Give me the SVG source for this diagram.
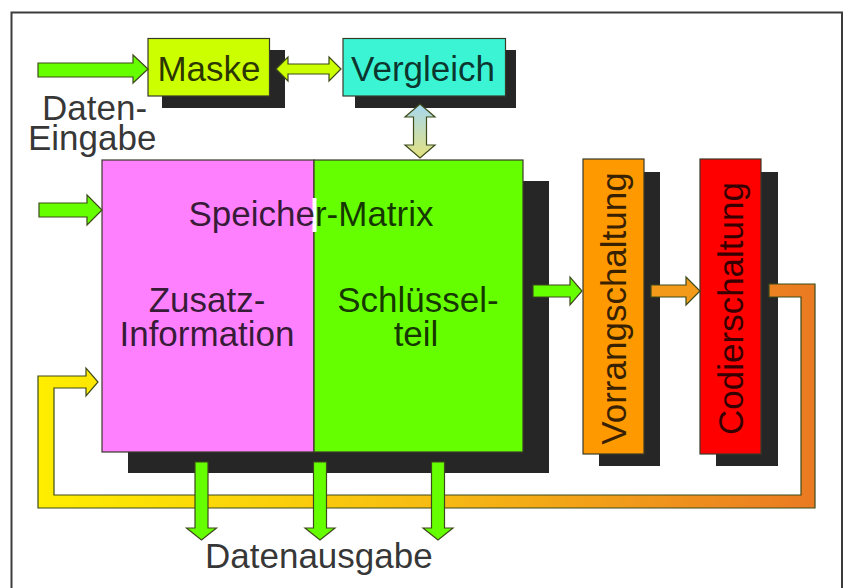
<svg xmlns="http://www.w3.org/2000/svg" width="846" height="588" viewBox="0 0 846 588">
<defs>
<style>
.lbl{font-family:"Liberation Sans",Arial,sans-serif;font-size:35px;fill:#000;fill-opacity:0.8}
.sh{fill:#262626}
.box{stroke:#3a3a2a;stroke-width:1.2}
.arr{stroke:#3d4a1a;stroke-width:1.2;stroke-linejoin:miter}
.grn{fill:#66ff00}
</style>
<linearGradient id="gV" x1="0" y1="104" x2="0" y2="158" gradientUnits="userSpaceOnUse">
<stop offset="0" stop-color="#a6d8f2"/>
<stop offset="1" stop-color="#e4e27e"/>
</linearGradient>
<linearGradient id="gLoop" x1="38" y1="0" x2="815" y2="0" gradientUnits="userSpaceOnUse">
<stop offset="0" stop-color="#ffee00"/>
<stop offset="0.5" stop-color="#f7bc12"/>
<stop offset="1" stop-color="#ea7a22"/>
</linearGradient>
</defs>
<rect width="846" height="588" fill="#ffffff"/>
<rect x="11.5" y="12.5" width="830.5" height="590" fill="none" stroke="#3c3c3c" stroke-width="2"/>

<g id="maske">
<rect class="sh" x="162" y="50" width="123" height="58"/>
<rect class="box" x="148" y="38.5" width="121.5" height="57.5" fill="#ccff00"/>
<text class="lbl" x="209" y="81" text-anchor="middle">Maske</text>
</g>

<g id="vergleich">
<rect class="sh" x="355" y="50" width="161" height="58"/>
<rect class="box" x="343" y="38.5" width="162.5" height="57.5" fill="#3af4d4"/>
<text class="lbl" x="423" y="81" text-anchor="middle">Vergleich</text>
</g>

<g id="daten-eingabe">
<text class="lbl" x="42" y="120">Daten-</text>
<text class="lbl" x="28" y="150">Eingabe</text>
</g>

<g id="speicher">
<rect class="sh" x="128" y="181" width="421" height="292"/>
<rect class="box" x="102" y="160" width="212" height="292" fill="#ff80ff"/>
<rect class="box" x="314" y="160" width="209" height="292" fill="#66ff00"/>
<rect x="312.5" y="198" width="4" height="34" fill="#ffffff"/>
<text class="lbl" x="311" y="226" text-anchor="middle">Speicher-Matrix</text>
<text class="lbl" x="207" y="312" text-anchor="middle">Zusatz-</text>
<text class="lbl" x="207" y="346" text-anchor="middle">Information</text>
<text class="lbl" x="418" y="312" text-anchor="middle">Schlüssel-</text>
<text class="lbl" x="416" y="346" text-anchor="middle">teil</text>
</g>

<g id="vorrangschaltung">
<rect class="sh" x="599" y="172" width="61" height="294"/>
<rect class="box" x="583" y="159" width="61" height="295" fill="#ff9900"/>
<text class="lbl" transform="translate(626,308.5) rotate(-90)" text-anchor="middle">Vorrangschaltung</text>
</g>

<g id="codierschaltung">
<rect class="sh" x="716" y="172" width="62" height="294"/>
<rect class="box" x="700" y="159" width="61" height="295" fill="#ff0000"/>
<text class="lbl" transform="translate(743,308.5) rotate(-90)" text-anchor="middle">Codierschaltung</text>
</g>

<g id="datenausgabe">
<text class="lbl" x="205" y="568">Datenausgabe</text>
</g>

<g id="connectors">
<polygon class="arr" fill="url(#gLoop)" points="769,284 815,284 815,508 38,508 38,376 86,376 86,368 98,382 86,396 86,388 54,388 54,495 801,495 801,297 769,297"/>
<polygon class="arr grn" points="38,63 133,63 133,55 148,69 133,83 133,77 38,77"/>
<polygon class="arr" fill="#ccff00" points="276,69 288,57 288,64 329,64 329,57 341,69 329,81 329,74 288,74 288,81"/>
<polygon class="arr" fill="url(#gV)" points="420,104 435,117 426.5,117 426.5,145 435,145 420,158 405,145 413.5,145 413.5,117 405,117"/>
<polygon class="arr grn" points="39,203 87,203 87,195 102,210 87,225 87,217 39,217"/>
<polygon class="arr grn" points="533,285 570,285 570,277 582,291 570,305 570,297 533,297"/>
<polygon class="arr" fill="#f39a1a" points="651,285 686,285 686,277 700,291 686,305 686,297 651,297"/>
<polygon class="arr grn" points="195,462 208,462 208,528 216.5,528 201.5,540 186.5,528 195,528"/>
<polygon class="arr grn" points="313.5,462 326.5,462 326.5,528 335,528 320,540 305,528 313.5,528"/>
<polygon class="arr grn" points="431.5,462 444.5,462 444.5,528 453,528 438,540 423,528 431.5,528"/>
</g>
</svg>
